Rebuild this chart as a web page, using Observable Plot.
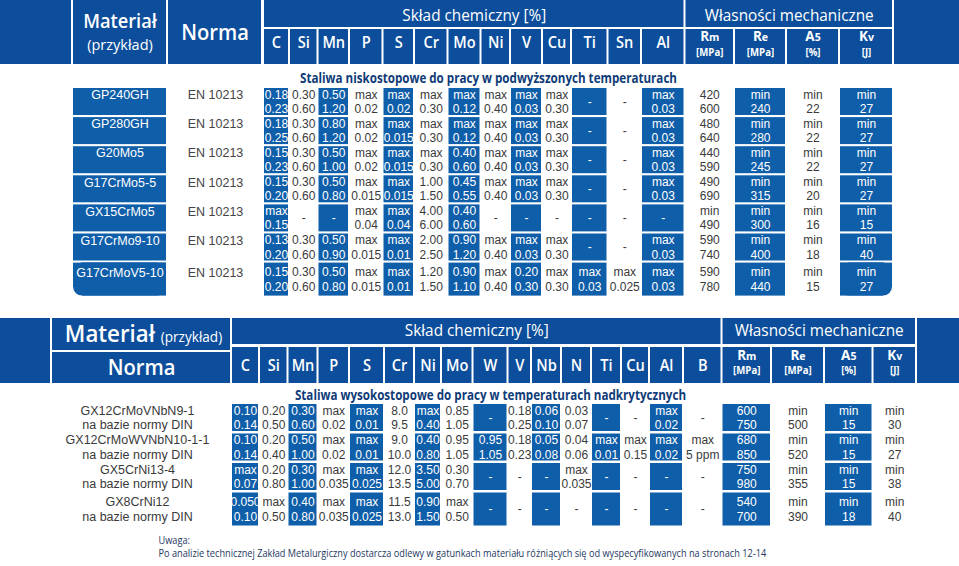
<!DOCTYPE html>
<html><head><meta charset="utf-8">
<script src="https://cdn.jsdelivr.net/npm/d3@7"></script>
<script src="https://cdn.jsdelivr.net/npm/@observablehq/plot@0.6"></script>
<style>
html,body{margin:0;padding:0;background:#fff;}
#chart svg{display:block;}
</style></head>
<body><div id="chart"></div>
<script>
// ---------------- DATA ----------------
const chemHeader = "Skład chemiczny [%]";
const mechHeader = "Własności mechaniczne";
const materialLabel = "Materiał";
const exampleLabel = "(przykład)";
const normLabel = "Norma";
const mechSymbols = ["Rm", "Re", "A5", "Kv"];
const mechUnits = ["[MPa]", "[MPa]", "[%]", "[J]"];

const topTitle = "Staliwa niskostopowe do pracy w podwyższonych temperaturach";
const topElements = ["C", "Si", "Mn", "P", "S", "Cr", "Mo", "Ni", "V", "Cu", "Ti", "Sn", "Al"];
const topMaterials = ["GP240GH", "GP280GH", "G20Mo5", "G17CrMo5-5", "GX15CrMo5", "G17CrMo9-10", "G17CrMoV5-10"];
const topNorms = ["EN 10213", "EN 10213", "EN 10213", "EN 10213", "EN 10213", "EN 10213", "EN 10213"];
const topChem = [
  ["0.18/0.23", "0.30/0.60", "0.50/1.20", "max/0.02", "max/0.02", "max/0.30", "max/0.12", "max/0.40", "max/0.03", "max/0.30", "-", "-", "max/0.03"],
  ["0.18/0.25", "0.30/0.60", "0.80/1.20", "max/0.02", "max/0.015", "max/0.30", "max/0.12", "max/0.40", "max/0.03", "max/0.30", "-", "-", "max/0.03"],
  ["0.15/0.23", "0.30/0.60", "0.50/1.00", "max/0.02", "max/0.015", "max/0.30", "0.40/0.60", "max/0.40", "max/0.03", "max/0.30", "-", "-", "max/0.03"],
  ["0.15/0.20", "0.30/0.60", "0.50/0.80", "max/0.015", "max/0.015", "1.00/1.50", "0.45/0.55", "max/0.40", "max/0.03", "max/0.30", "-", "-", "max/0.03"],
  ["max/0.15", "-", "-", "max/0.04", "max/0.04", "4.00/6.00", "0.40/0.60", "-", "-", "-", "-", "-", "-"],
  ["0.13/0.20", "0.30/0.60", "0.50/0.90", "max/0.015", "max/0.01", "2.00/2.50", "0.90/1.20", "max/0.40", "max/0.03", "max/0.30", "-", "-", "max/0.03"],
  ["0.15/0.20", "0.30/0.60", "0.50/0.80", "max/0.015", "max/0.01", "1.20/1.50", "0.90/1.10", "max/0.40", "0.20/0.30", "max/0.30", "max/0.03", "max/0.025", "max/0.03"]
];
const topMech = [
  ["420/600", "min/240", "min/22", "min/27"],
  ["480/640", "min/280", "min/22", "min/27"],
  ["440/590", "min/245", "min/22", "min/27"],
  ["490/690", "min/315", "min/20", "min/27"],
  ["min/490", "min/300", "min/16", "min/15"],
  ["590/740", "min/400", "min/18", "min/40"],
  ["590/780", "min/440", "min/15", "min/27"]
];

const bottomTitle = "Staliwa wysokostopowe do pracy w temperaturach nadkrytycznych";
const bottomElements = ["C", "Si", "Mn", "P", "S", "Cr", "Ni", "Mo", "W", "V", "Nb", "N", "Ti", "Cu", "Al", "B"];
const bottomMaterials = ["GX12CrMoVNbN9-1", "GX12CrMoWVNbN10-1-1", "GX5CrNi13-4", "GX8CrNi12"];
const bottomNorms = ["na bazie normy DIN", "na bazie normy DIN", "na bazie normy DIN", "na bazie normy DIN"];
const bottomChem = [
  ["0.10/0.14", "0.20/0.50", "0.30/0.60", "max/0.02", "max/0.01", "8.0/9.5", "max/0.40", "0.85/1.05", "-", "0.18/0.25", "0.06/0.10", "0.03/0.07", "-", "-", "max/0.02", "-"],
  ["0.10/0.14", "0.20/0.40", "0.50/1.00", "max/0.02", "max/0.01", "9.0/10.0", "0.40/0.80", "0.95/1.05", "0.95/1.05", "0.18/0.23", "0.05/0.08", "0.04/0.06", "max/0.01", "max/0.15", "max/0.02", "max/5 ppm"],
  ["max/0.07", "0.20/0.80", "0.30/1.00", "max/0.035", "max/0.025", "12.0/13.5", "3.50/5.00", "0.30/0.70", "-", "-", "-", "max/0.035", "-", "-", "-", "-"],
  ["0.050/0.10", "max/0.50", "0.40/0.80", "max/0.035", "max/0.025", "11.5/13.0", "0.90/1.50", "max/0.50", "-", "-", "-", "-", "-", "-", "-", "-"]
];
const bottomMech = [
  ["600/750", "min/500", "min/15", "min/30"],
  ["680/850", "min/520", "min/15", "min/27"],
  ["750/980", "min/355", "min/15", "min/38"],
  ["540/700", "min/390", "min/18", "min/40"]
];

const noteLabel = "Uwaga:";
const noteText = "Po analizie technicznej Zakład Metalurgiczny dostarcza odlewy w gatunkach materiału różniących się od wyspecyfikowanych na stronach 12-14";

// ---------------- LAYOUT ----------------
const HEAD = "#0c4e9b", CELL = "#0f5ea9", INK = "#3a3a3a", NAVY = "#0f3b78", NOTE = "#24385f";
const HF = "'Open Sans', 'Noto Sans', sans-serif";
const DF = "'Liberation Sans', Arial, sans-serif";
const LINE = 7.25;

const TOP = {
  edges: [263, 289, 317.5, 349, 382.5, 414, 447.5, 480.5, 510, 542, 571, 607.5, 641, 684.5, 734, 786, 839, 893],
  h1: [0, 27], h2: [29, 64], full: [0, 64],
  leftBar: [0, 71], mat: [73, 166], norm: [168, 261], rightBar: [894, 959],
  titleX: 488, titleY: 78,
  rowTop: 88, pitch: 29.1, rowH: 27, lastH: 33
};
const BOT = {
  edges: [231, 259, 287.5, 317.5, 349, 384, 414, 441, 472.5, 507.5, 531, 561, 591, 621, 649, 683, 721.5, 771, 824, 872.5, 916],
  h1: [318, 344], h2: [347, 383], full: [318, 383], matRow: [318, 350], normRow: [352, 383],
  leftBar: [0, 50], mat: [52, 230], rightBar: [917, 959],
  titleX: 490, titleY: 395,
  rowTop: 404, pitch: 29.5, rowH: 27, lastH: 33,
  nameX: 137
};

function rowsOf(T, n) {
  return d3.range(n).map(i => {
    const y1 = T.rowTop + T.pitch * i;
    const h = i === n - 1 ? T.lastH : T.rowH;
    return {y1, y2: y1 + h, yc: y1 + h / 2};
  });
}
function colsOf(T, k) { return {x1: T.edges[k] + 1, x2: T.edges[k + 1] - 1, xc: (T.edges[k] + T.edges[k + 1]) / 2}; }

function buildCells(T, chem, mech, rows) {
  const rects = [], texts = [];
  chem.forEach((row, r) => {
    [...row, ...mech[r]].forEach((v, c) => {
      const {x1, x2, xc} = colsOf(T, c);
      const {y1, y2, yc} = rows[r];
      const blue = c % 2 === 0;
      rects.push({x1, x2, y1, y2, blue, r, c});
      const parts = v.split("/");
      parts.forEach((t, k) => texts.push({x: xc, y: parts.length === 1 ? yc : yc + (k === 0 ? -LINE : LINE), t, blue}));
    });
  });
  return {rects, texts};
}
function roundPatches(b, side, rad) {
  return [
    {x1: side === "left" ? b.x1 + rad : b.x1, x2: side === "left" ? b.x2 : b.x2 - rad, y1: b.y1, y2: b.y2},
    {x1: b.x1, x2: b.x2, y1: b.y1, y2: b.y2 - rad}
  ];
}

// ---- top table ----
const topRows = rowsOf(TOP, topMaterials.length);
const topNCols = topElements.length + mechSymbols.length;
const topHeadRects = [
  {x1: TOP.leftBar[0], x2: TOP.leftBar[1], y1: TOP.full[0], y2: TOP.full[1]},
  {x1: TOP.mat[0], x2: TOP.mat[1], y1: TOP.full[0], y2: TOP.full[1]},
  {x1: TOP.norm[0], x2: TOP.norm[1], y1: TOP.full[0], y2: TOP.full[1]},
  {x1: TOP.edges[0] + 1, x2: TOP.edges[topElements.length] - 1, y1: TOP.h1[0], y2: TOP.h1[1]},
  {x1: TOP.edges[topElements.length] + 1, x2: TOP.edges[topNCols] - 1, y1: TOP.h1[0], y2: TOP.h1[1]},
  {x1: TOP.rightBar[0], x2: TOP.rightBar[1], y1: TOP.full[0], y2: TOP.full[1]},
  ...d3.range(topNCols).map(k => ({...colsOf(TOP, k), y1: TOP.h2[0], y2: TOP.h2[1]}))
];
const topCells = buildCells(TOP, topChem, topMech, topRows);
const topMatBoxes = topMaterials.map((m, i) => ({x1: TOP.mat[0], x2: TOP.mat[1], y1: topRows[i].y1, y2: topRows[i].y2, last: i === topMaterials.length - 1}));
const lastMat = topMatBoxes[topMatBoxes.length - 1];
const lastKv = topCells.rects.find(d => d.r === topMaterials.length - 1 && d.c === topNCols - 1);
const roundedBoxes = [lastMat, lastKv];
const roundedFill = [...roundPatches(lastMat, "left", 9), ...roundPatches(lastKv, "right", 9)];
const topBlueRects = topCells.rects.filter(d => d.blue && d !== lastKv);
const topMatPlain = topMatBoxes.filter(d => !d.last);
const topNameTexts = topMaterials.map((m, i) => ({x: (TOP.mat[0] + TOP.mat[1]) / 2, y: topRows[i].yc - LINE + (i === topMaterials.length - 1 ? 1 : 0.5), t: m}));
const topNormTexts = topNorms.map((m, i) => ({x: (TOP.norm[0] + TOP.norm[1]) / 2 + 0.5, y: topRows[i].yc - LINE + (i === topMaterials.length - 1 ? 1 : 0.5), t: m}));

// ---- bottom table ----
const botRows = rowsOf(BOT, bottomMaterials.length);
const botNCols = bottomElements.length + mechSymbols.length;
const botHeadRects = [
  {x1: BOT.leftBar[0], x2: BOT.leftBar[1], y1: BOT.full[0], y2: BOT.full[1]},
  {x1: BOT.mat[0], x2: BOT.mat[1], y1: BOT.matRow[0], y2: BOT.matRow[1]},
  {x1: BOT.mat[0], x2: BOT.mat[1], y1: BOT.normRow[0], y2: BOT.normRow[1]},
  {x1: BOT.edges[0] + 1, x2: BOT.edges[bottomElements.length] - 1, y1: BOT.h1[0], y2: BOT.h1[1]},
  {x1: BOT.edges[bottomElements.length] + 1, x2: BOT.edges[botNCols] - 1, y1: BOT.h1[0], y2: BOT.h1[1]},
  {x1: BOT.rightBar[0], x2: BOT.rightBar[1], y1: BOT.full[0], y2: BOT.full[1]},
  ...d3.range(botNCols).map(k => ({...colsOf(BOT, k), y1: BOT.h2[0], y2: BOT.h2[1]}))
];
const botCells = buildCells(BOT, bottomChem, bottomMech, botRows);
const botNameTexts = bottomMaterials.flatMap((m, i) => [
  {x: BOT.nameX, y: botRows[i].yc - LINE, t: m},
  {x: BOT.nameX, y: botRows[i].yc + LINE, t: bottomNorms[i]}
]);

// ---- header texts ----
const midX = (a, b) => (a + b) / 2;
const bigHeadTexts = [
  {x: midX(...TOP.mat), y: 21, t: materialLabel, s: 19},
  {x: midX(...TOP.norm), y: 33, t: normLabel, s: 21},
  {x: midX(...BOT.mat), y: midX(...BOT.normRow) + 0.5, t: normLabel, s: 21}
];
const smallHeadTexts = [
  {x: midX(...TOP.mat), y: 45, t: exampleLabel, s: 14.5}
];
const spanTexts = [
  {x: midX(TOP.edges[0], TOP.edges[topElements.length]), y: 15, t: chemHeader},
  {x: midX(TOP.edges[topElements.length], TOP.edges[topNCols]), y: 15, t: mechHeader},
  {x: midX(BOT.edges[0], BOT.edges[bottomElements.length]), y: midX(...BOT.h1) - 1, t: chemHeader},
  {x: midX(BOT.edges[bottomElements.length], BOT.edges[botNCols]), y: midX(...BOT.h1) - 1, t: mechHeader}
];
const elemTexts = [
  ...topElements.map((e, k) => ({x: colsOf(TOP, k).xc, y: 42, t: e})),
  ...bottomElements.map((e, k) => ({x: colsOf(BOT, k).xc, y: midX(...BOT.h2), t: e}))
];
const symTexts = [
  ...mechSymbols.map((e, k) => ({x: colsOf(TOP, topElements.length + k).xc, y: TOP.h2[0] + 7.5, t: e})),
  ...mechSymbols.map((e, k) => ({x: colsOf(BOT, bottomElements.length + k).xc, y: BOT.h2[0] + 8, t: e}))
];
const unitTexts = [
  ...mechUnits.map((e, k) => ({x: colsOf(TOP, topElements.length + k).xc, y: TOP.h2[0] + 23, t: e})),
  ...mechUnits.map((e, k) => ({x: colsOf(BOT, bottomElements.length + k).xc, y: BOT.h2[0] + 23, t: e}))
];
const matComboText = [{x: midX(...BOT.mat) + 2, y: midX(...BOT.matRow) + 0.5, t: materialLabel + " " + exampleLabel}];
const titleTexts = [
  {x: TOP.titleX, y: TOP.titleY, t: topTitle},
  {x: BOT.titleX, y: BOT.titleY, t: bottomTitle}
];
const noteTexts = [
  {x: 158, y: 540, t: noteLabel},
  {x: 158, y: 553, t: noteText}
];

const rect = (data, fill, extra = {}) => Plot.rect(data, {x1: "x1", x2: "x2", y1: "y1", y2: "y2", fill, ...extra});
const txt = (data, opts) => Plot.text(data, {x: "x", y: "y", text: "t", lineAnchor: "middle", ...opts});

const plot = Plot.plot({
  width: 959, height: 566, margin: 0,
  x: {type: "identity", axis: null},
  y: {type: "identity", axis: null},
  style: {background: "#ffffff"},
  marks: [
    rect([...topHeadRects, ...botHeadRects], HEAD),
    rect(topBlueRects, CELL),
    rect(topMatPlain, CELL),
    rect(roundedBoxes, CELL, {rx: 9}),
    rect(roundedFill, CELL),
    rect(botCells.rects.filter(d => d.blue), CELL),
    // header text
    txt(bigHeadTexts, {fill: "white", fontSize: "s", fontFamily: HF, fontWeight: 600, className: "cond-96"}),
    txt(smallHeadTexts, {fill: "white", fontSize: "s", fontFamily: HF, fontWeight: 500}),
    txt(matComboText, {fill: "white", fontSize: 23, fontFamily: HF, fontWeight: 600, className: "matcombo"}),
    txt(spanTexts, {fill: "white", fontSize: 16.5, fontFamily: HF, fontWeight: 500, className: "cond-93"}),
    txt(elemTexts, {fill: "white", fontSize: 17, fontFamily: HF, fontWeight: 600, className: "cond-86"}),
    txt(symTexts, {fill: "white", fontSize: 13.5, fontFamily: HF, fontWeight: 700, className: "mechsym"}),
    txt(unitTexts, {fill: "white", fontSize: 10.5, fontFamily: HF, fontWeight: 700, className: "cond-92"}),
    // titles
    txt(titleTexts, {fill: NAVY, fontSize: 14, fontFamily: HF, fontWeight: 700, className: "cond-83"}),
    // data text
    txt(topCells.texts.filter(d => d.blue), {fill: "white", fontSize: 12, fontFamily: DF}),
    txt(topCells.texts.filter(d => !d.blue), {fill: INK, fontSize: 12, fontFamily: DF}),
    txt(botCells.texts.filter(d => d.blue), {fill: "white", fontSize: 12, fontFamily: DF}),
    txt(botCells.texts.filter(d => !d.blue), {fill: INK, fontSize: 12, fontFamily: DF}),
    txt(topNameTexts, {fill: "white", fontSize: 12.5, fontFamily: DF}),
    txt(topNormTexts, {fill: "#444", fontSize: 12.5, fontFamily: DF}),
    txt(botNameTexts, {fill: INK, fontSize: 12.5, fontFamily: DF}),
    // note
    txt(noteTexts, {fill: NOTE, fontSize: 10, fontFamily: HF, textAnchor: "start", className: "cond-92"})
  ]
});
document.getElementById("chart").appendChild(plot);

// ---- typographic touches (sub-sized letters, condensed headline face) ----
function squeeze(el, f) {
  if (!(f > 0) || f === 1) return;
  const t = el.getAttribute("transform");
  if (t) {
    el.setAttribute("transform", `${t} scale(${f},1)`);
  } else {
    const x = +(el.getAttribute("x") || 0);
    el.setAttribute("transform", `translate(${x},0) scale(${f},1) translate(${-x},0)`);
  }
}
plot.querySelectorAll("g.mechsym text").forEach(el => {
  const s = el.textContent;
  el.textContent = s[0];
  d3.select(el).append("tspan").attr("font-size", "0.78em").text(s.slice(1));
});
plot.querySelectorAll("g.matcombo text").forEach(el => {
  const s = el.textContent;
  const i = s.indexOf(" ");
  el.textContent = s.slice(0, i + 1);
  d3.select(el).append("tspan").attr("font-size", "14px").attr("font-weight", 500).text(s.slice(i + 1));
  squeeze(el, 0.97);
});
plot.querySelectorAll("g[class*='cond-'] text").forEach(el => {
  const cls = [...el.parentNode.classList].find(c => c.startsWith("cond-"));
  squeeze(el, +cls.split("-")[1] / 100);
});
</script>
</body></html>
